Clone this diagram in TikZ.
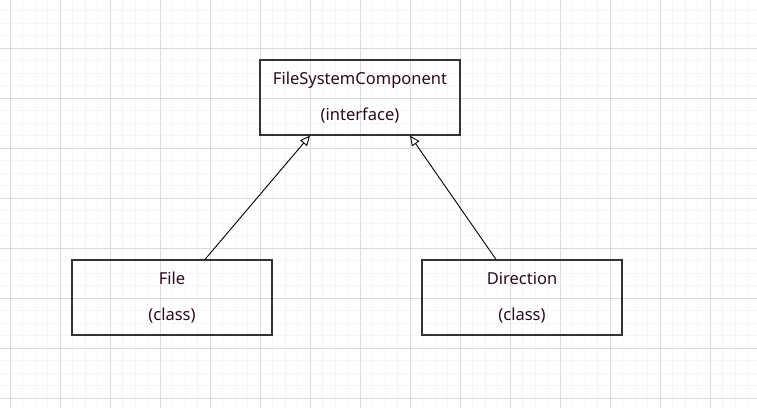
\documentclass[tikz,border=0pt]{standalone}
\usepackage{fontspec}
\setmainfont{Noto Sans}
\usetikzlibrary{arrows.meta}

\definecolor{gridminor}{HTML}{F5F5F5}
\definecolor{gridmajor}{HTML}{DCDCDC}
\definecolor{labeltext}{HTML}{2A0A1E}

\tikzset{
  classbox/.style={draw=black!80, line width=1.2pt, minimum width=200pt, minimum height=75pt,
    inner sep=0pt, font=\fontsize{16.5}{20}\selectfont, text=labeltext, align=center},
  realizes/.style={-{Triangle[open,length=10pt,width=9pt,fill=white]}, line width=0.9pt, black}
}

\begin{document}
\begin{tikzpicture}[x=1pt,y=-1pt]
        \useasboundingbox (0,0) rectangle (757,408);
        \fill[white] (0,0) rectangle (757,408);

        % grid
        \foreach \x in {-2.5,10,...,757} \draw[gridminor, line width=1pt] (\x,0) -- (\x,408);
        \foreach \y in {-2,10.5,...,408} \draw[gridminor, line width=1pt] (0,\y) -- (757,\y);
        \foreach \x in {10,60,...,757} \draw[gridmajor, line width=1pt] (\x,0) -- (\x,408);
        \foreach \y in {48,98,...,408} \draw[gridmajor, line width=1pt] (0,\y) -- (757,\y);

        \node[classbox] (fsc) at (360,97.5) {FileSystemComponent\\[16pt](interface)};
        \node[classbox] (file) at (172,297.5) {File\\[16pt](class)};
        \node[classbox] (dir) at (522,297.5) {Direction\\[16pt](class)};

        %file>fsc
        \draw[realizes] (file.north -| 205,0) -- (fsc.south -| 310,0);
        %dir>fsc
        \draw[realizes] (dir.north -| 496,0) -- (fsc.south -| 410,0);
\end{tikzpicture}
\end{document}
